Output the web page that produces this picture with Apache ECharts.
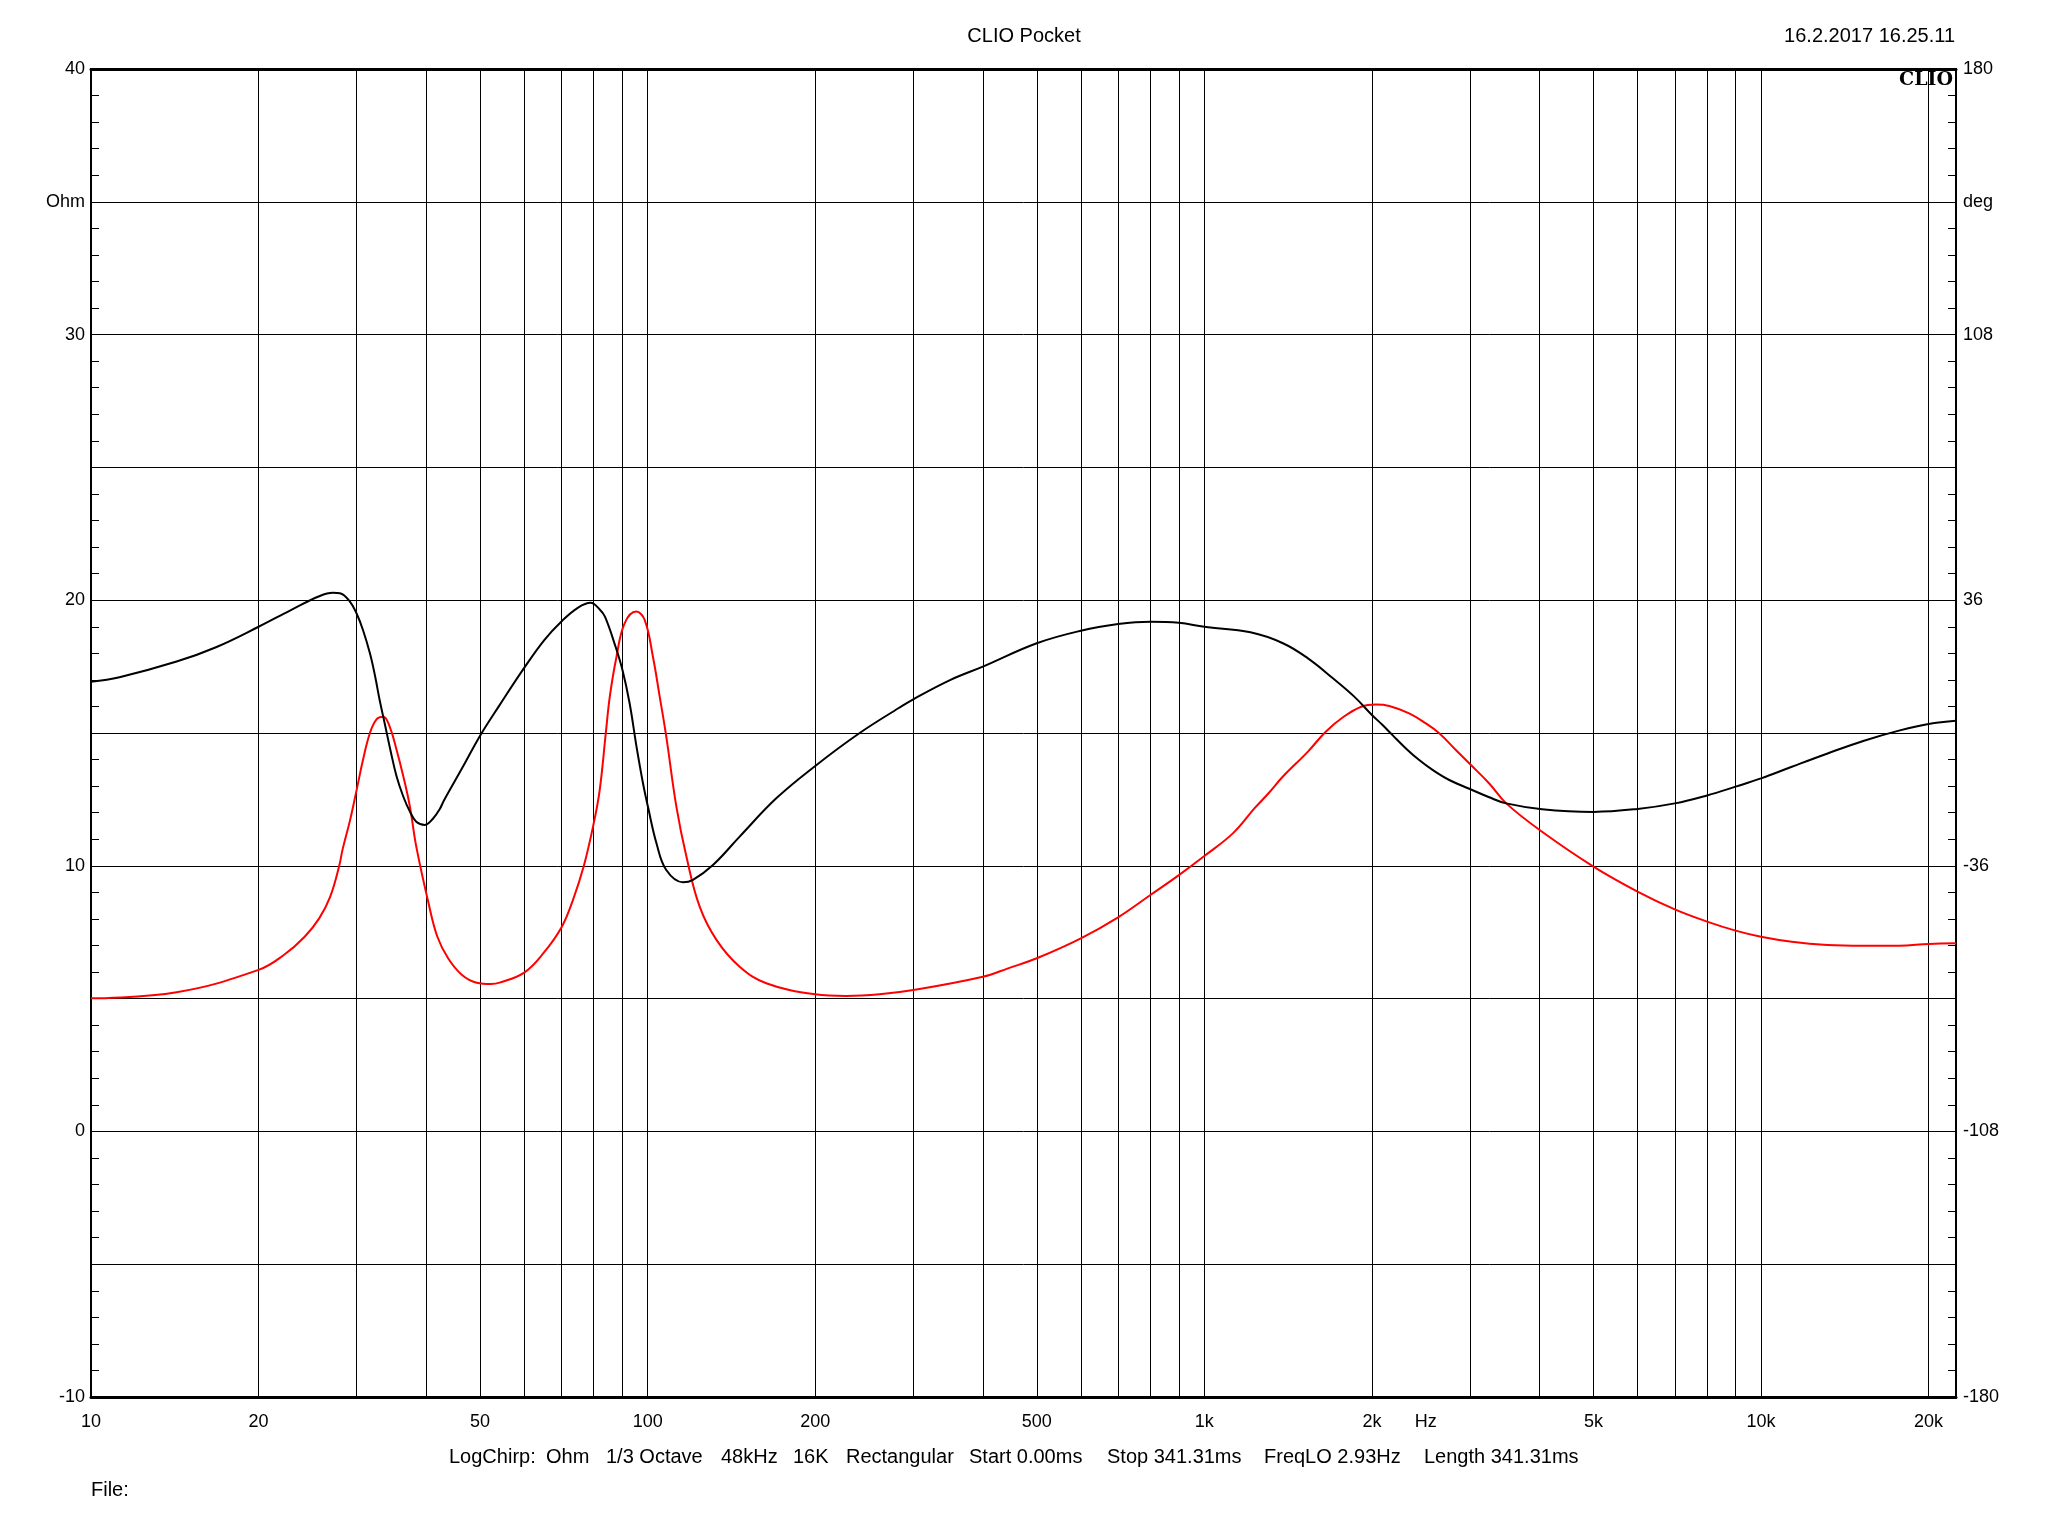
<!DOCTYPE html>
<html><head><meta charset="utf-8">
<script src="https://cdn.jsdelivr.net/npm/echarts@6/dist/echarts.min.js"></script>
<style>html,body{margin:0;padding:0;background:#fff}#c{width:2048px;height:1536px}</style>
</head><body><div id="c"></div>
<script>
// Impedance curve (black), Hz / Ohm
const blackFreq = [10,11.25,14.25,16.77,20,22.86,25.7,27.2,28,29.2,30,30.8,31.7,32.4,33,33.7,34.5,35.4,36.4,37.4,38.4,39.8,41.2,42.3,43.1,46.4,50,54.2,60,65.2,70,75,79,82,83.8,87.4,90.1,92.8,95.5,98.1,100.1,103.7,108,115.7,120.6,131,146.3,170.2,200,240,283,300,350,400,500,600,700,800,900,1000,1210,1384,1535,1702,1859,2000,2090,2178,2302,2432,2570,2754,3000,3249,3486,4043,5000,6000,7000,8000,9000,10000,11360,13170,15260,17690,20000,22400];
const blackOhm = [16.93,17.1,17.69,18.23,19.0,19.63,20.15,20.28,20.26,19.94,19.5,18.88,18.0,17.12,16.24,15.36,14.36,13.36,12.6,12.04,11.66,11.54,11.79,12.13,12.48,13.67,14.9,16.05,17.45,18.5,19.2,19.72,19.9,19.65,19.38,18.3,17.37,16.12,14.48,13.1,12.23,10.85,9.84,9.38,9.47,10.03,11.1,12.54,13.76,14.99,15.95,16.27,17.0,17.5,18.38,18.85,19.1,19.19,19.15,19.0,18.79,18.38,17.81,17.06,16.37,15.68,15.3,14.92,14.42,13.98,13.61,13.23,12.89,12.58,12.35,12.13,12.03,12.14,12.35,12.65,12.98,13.29,13.73,14.23,14.7,15.09,15.34,15.46];
// Second curve (red), Hz / Ohm
const redFreq = [10,14.25,20,22.2,24.2,25.7,26.9,27.9,28.3,29.2,30,30.8,31.7,32.6,33.5,34.4,35.4,36.4,37.4,38.4,40.4,41.9,43.8,46.4,49.3,52.3,54.2,60,64.9,70,73.4,76.8,80,82,84.1,85.5,87.9,90.9,95.4,98.8,102.2,105.1,108,112.6,117.4,124,132.9,146.3,163.3,200,227,261,300,400,444,500,600,700,800,900,1000,1125,1230,1304,1384,1535,1652,1779,1914,2033,2148,2333,2500,2642,2830,3000,3249,3486,4043,5000,6000,7000,8000,9000,10000,11360,13170,15260,17690,20000,22400];
const redOhm = [5.01,5.24,6.08,6.64,7.33,8.02,8.84,9.97,10.6,11.72,12.85,13.98,15.0,15.52,15.61,15.24,14.36,13.36,12.23,10.72,8.59,7.33,6.52,5.89,5.6,5.55,5.6,5.98,6.7,7.68,8.71,10.0,11.6,12.85,15.0,16.37,17.87,19.13,19.57,19.25,17.87,16.37,14.86,12.23,10.34,8.46,7.21,6.2,5.58,5.16,5.1,5.16,5.32,5.82,6.14,6.52,7.27,8.06,8.9,9.65,10.37,11.22,12.16,12.73,13.36,14.3,15.05,15.61,15.99,16.07,16.02,15.74,15.36,14.99,14.36,13.83,13.1,12.35,11.28,9.97,9.03,8.36,7.9,7.56,7.33,7.14,7.02,6.99,6.99,7.06,7.08];

// Axis ticks / labels
const gridFreqs = [20,30,40,50,60,70,80,90,100,200,300,400,500,600,700,800,900,1000,2000,3000,4000,5000,6000,7000,8000,9000,10000,20000];
const xLabelValues = [10,20,50,100,200,500,1000,2000,2500,5000,10000,20000];
const xLabelTexts = ['10','20','50','100','200','500','1k','2k','Hz','5k','10k','20k'];
const leftLabelValues = [40,35,30,20,10,0,-10];
const leftLabelTexts = ['40','Ohm','30','20','10','0','-10'];
const rightLabelValues = [180,144,108,36,-36,-108,-180];
const rightLabelTexts = ['180','deg','108','36','-36','-108','-180'];

const titleText = 'CLIO Pocket';
const dateText = '16.2.2017 16.25.11';
const footerItems = [['LogChirp:',449],['Ohm',546],['1/3 Octave',606],['48kHz',721],['16K',793],['Rectangular',846],['Start 0.00ms',969],['Stop 341.31ms',1107],['FreqLO 2.93Hz',1264],['Length 341.31ms',1424]];

const FONT = '"Liberation Sans", Arial, sans-serif';
function pick(vals, texts, v, tol) {
  for (let i = 0; i < vals.length; i++) {
    if (Math.abs(vals[i] - v) <= tol) return texts[i];
  }
  return '';
}
function pickLog(v) {
  for (let i = 0; i < xLabelValues.length; i++) {
    if (Math.abs(v / xLabelValues[i] - 1) < 0.01) return xLabelTexts[i];
  }
  return '';
}

const chart = echarts.init(document.getElementById('c'), null, {renderer: 'canvas'});
const graphics = [
  {type:'text', left: 'center', top: 26, style:{text: titleText, font: '20px ' + FONT, fill:'#000'}},
  {type:'text', right: 93, top: 26, style:{text: dateText, font: '20px ' + FONT, fill:'#000'}},
  {type:'text', right: 95, top: 71, z: 10, style:{text: 'CLIO', font: 'bold 19px "DejaVu Serif", serif', fill:'#000'}},
  {type:'text', left: 91, top: 1480, style:{text: 'File:', font: '20px ' + FONT, fill:'#000'}}
];
footerItems.forEach(function (it) {
  graphics.push({type:'text', left: it[1], top: 1447, style:{text: it[0], font: '20px ' + FONT, fill:'#000'}});
});

chart.setOption({
  animation: false,
  backgroundColor: '#fff',
  grid: {left: 91, right: 92, top: 69, bottom: 139, show: true, borderColor: '#000', borderWidth: 2, containLabel: false},
  graphic: graphics,
  xAxis: [{
    type: 'log', logBase: 10, min: 10, max: 22400, position: 'bottom',
    axisLine: {show: true, onZero: false, lineStyle: {color: '#000', width: 3}},
    axisTick: {show: false, customValues: gridFreqs},
    splitLine: {show: true, lineStyle: {color: '#000', width: 1}},
    minorTick: {show: false}, minorSplitLine: {show: false},
    axisLabel: {show: true, customValues: xLabelValues, margin: 16, color: '#000', fontSize: 18, fontFamily: FONT,
      formatter: function (v) { return pickLog(v); }}
  }, {
    type: 'log', logBase: 10, min: 10, max: 22400, position: 'top',
    axisLine: {show: true, onZero: false, lineStyle: {color: '#000', width: 3}},
    axisTick: {show: false}, axisLabel: {show: false}, splitLine: {show: false}
  }],
  yAxis: [{
    type: 'value', min: -10, max: 40, interval: 5, position: 'left',
    axisLine: {show: true, onZero: false, lineStyle: {color: '#000', width: 2}},
    axisTick: {show: false, inside: true},
    minorTick: {show: true, splitNumber: 5, length: 8, lineStyle: {color: '#000', width: 1}},
    splitLine: {show: true, lineStyle: {color: '#000', width: 1}},
    axisLabel: {margin: 6, color: '#000', fontSize: 18, fontFamily: FONT,
      formatter: function (v) { return pick(leftLabelValues, leftLabelTexts, v, 0.01); }}
  }, {
    type: 'value', min: -180, max: 180, interval: 36, position: 'right',
    axisLine: {show: true, onZero: false, lineStyle: {color: '#000', width: 2}},
    axisTick: {show: false, inside: true},
    minorTick: {show: true, splitNumber: 5, length: 8, lineStyle: {color: '#000', width: 1}},
    splitLine: {show: false},
    axisLabel: {margin: 7, color: '#000', fontSize: 18, fontFamily: FONT,
      formatter: function (v) { return pick(rightLabelValues, rightLabelTexts, v, 0.01); }}
  }],
  series: [{
    name: 'Impedance', type: 'line', xAxisIndex: 0, yAxisIndex: 0,
    data: blackFreq.map(function (f, i) { return [f, blackOhm[i]]; }),
    showSymbol: false, smooth: 0.4, z: 4,
    lineStyle: {color: '#000', width: 2}
  }, {
    name: 'Curve 2', type: 'line', xAxisIndex: 0, yAxisIndex: 0,
    data: redFreq.map(function (f, i) { return [f, redOhm[i]]; }),
    showSymbol: false, smooth: 0.4, z: 3,
    lineStyle: {color: '#ff0000', width: 2}
  }]
});
</script></body></html>
